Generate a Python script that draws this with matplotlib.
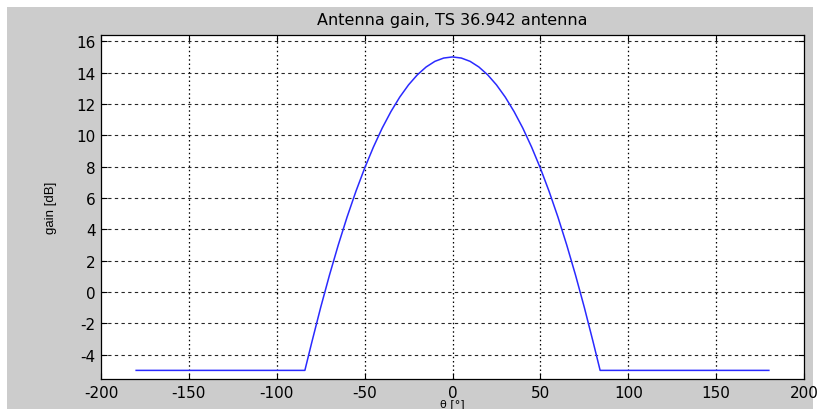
import matplotlib
matplotlib.use('Agg')
import matplotlib.pyplot as plt
from matplotlib.patches import Rectangle

# gain, symmetric around boresight
theta = [-180, -84, -80, -75, -70, -65, -60, -55, -50, -45, -40, -35, -30, -25, -20, -15, -10, -5,
         0, 5, 10, 15, 20, 25, 30, 35, 40, 45, 50, 55, 60, 65, 70, 75, 80, 84, 180]
gain = [-5.0, -5.0, -3.18, -0.98, 1.08, 3.0, 4.78, 6.41, 7.9, 9.25, 10.46, 11.52, 12.44, 13.22, 13.86, 14.36, 14.72, 14.93,
        15.0, 14.93, 14.72, 14.36, 13.86, 13.22, 12.44, 11.52, 10.46, 9.25, 7.9, 6.41, 4.78, 3.0, 1.08, -0.98, -3.18, -5.0, -5.0]

xticks = [-200, -150, -100, -50, 0, 50, 100, 150, 200]
yticks = [-4, -2, 0, 2, 4, 6, 8, 10, 12, 14, 16]

# wide font, the reference text looks horizontally stretched
plt.rcParams['font.family'] = ['DejaVu Sans']
plt.rcParams['axes.unicode_minus'] = False

fig = plt.figure(figsize=(8.36, 4.10), dpi=100)
fig.patch.set_facecolor('white')
# grey MATLAB figure background, kept behind the axes
fig.patches.append(Rectangle((7 / 836, 0), 806 / 836, 402 / 410, transform=fig.transFigure,
                             facecolor='#cccccc', edgecolor='none', zorder=-10))

ax = fig.add_axes([101 / 836, 1 - 380 / 410, 703 / 836, 344 / 410])
ax.set_facecolor('white')
ax.plot(theta, gain, color='#2a2aff', linewidth=1.1, zorder=3)

ax.set_xlim(-200, 200)
ax.set_ylim(-5.55, 16.4)
ax.set_xticks(xticks)
ax.set_yticks(yticks)

# MATLAB-like dotted grid
for x in xticks[1:-1]:
    ax.axvline(x, color='black', linestyle=(0, (1.2, 2.2)), linewidth=0.9, zorder=1)
for y in yticks:
    ax.axhline(y, color='black', linestyle=(0, (3, 3)), linewidth=0.8, alpha=0.85, zorder=1)

ax.tick_params(direction='in', length=4, width=0.8, top=True, right=True, labelsize=11,
               colors='black', pad=4)
for s in ax.spines.values():
    s.set_linewidth(0.9)

ax.set_title('Antenna gain, TS 36.942 antenna', fontsize=11.5, pad=8)
ax.set_xlabel('θ [°]', fontsize=8)
ax.xaxis.set_label_coords(0.5, -(399 - 380) / 344)
ax.set_ylabel('gain [dB]', fontsize=9.5, family=['Liberation Sans Narrow', 'Liberation Sans'])
ax.yaxis.set_label_coords(-(101 - 57) / 703, 0.5)

fig.savefig('out.png', dpi=100)
